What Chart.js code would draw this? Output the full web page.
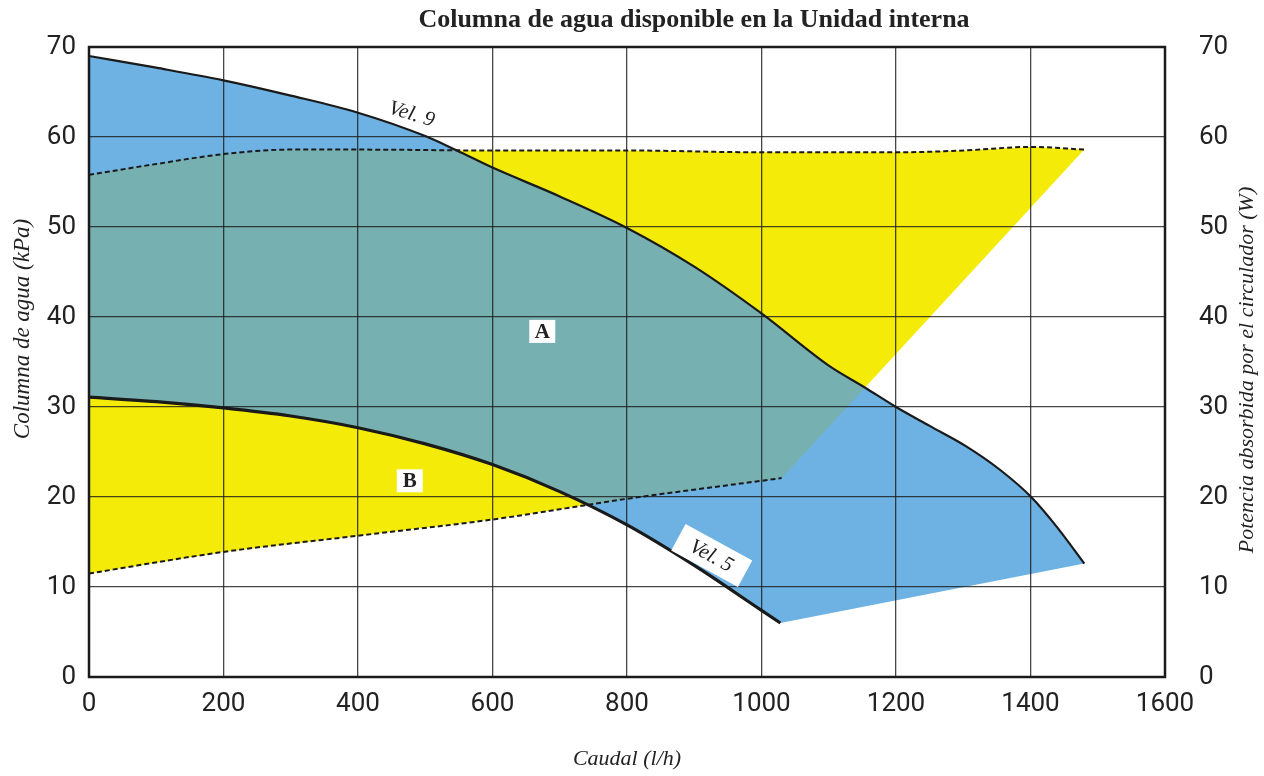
<!DOCTYPE html>
<html>
<head>
<meta charset="utf-8">
<script src="https://cdn.jsdelivr.net/npm/chart.js@4.4.1/dist/chart.umd.min.js"></script>
<style>
  html, body { margin: 0; padding: 0; background: #fff; }
  #wrap { width: 1264px; height: 776px; }
</style>
</head>
<body>
<div id="wrap"><canvas id="myChart"></canvas></div>
<script>
// curva Vel. 9 (kPa)
const vel9Caudal = [0, 100, 200, 300, 400, 500, 547, 600, 700, 800, 900, 1000, 1100, 1153, 1200, 1250, 1305, 1355, 1401, 1440, 1480];
const vel9Columna = [69.0, 67.7, 66.3, 64.6, 62.7, 60.1, 58.5, 56.6, 53.4, 49.9, 45.6, 40.4, 34.6, 32.2, 30.0, 27.9, 25.6, 23.0, 20.0, 16.6, 12.6];
// curva Vel. 5 (kPa)
const vel5Caudal = [0, 100, 200, 300, 400, 500, 600, 700, 800, 900, 1000, 1028];
const vel5Columna = [31.1, 30.6, 29.9, 29.0, 27.7, 25.9, 23.6, 20.6, 16.9, 12.4, 7.4, 6.0];
// potencia absorbida (W)
const potMaxCaudal = [0, 100, 200, 300, 400, 600, 800, 1000, 1200, 1300, 1400, 1480];
const potMaxW = [55.8, 57.0, 58.1, 58.6, 58.6, 58.5, 58.5, 58.3, 58.3, 58.5, 58.9, 58.6];
const potMinCaudal = [0, 200, 400, 600, 800, 1000, 1030];
const potMinW = [11.5, 13.9, 15.7, 17.5, 19.8, 21.8, 22.1];
// ticks
const xTicks = [0, 200, 400, 600, 800, 1000, 1200, 1400, 1600];
const yTicks = [0, 10, 20, 30, 40, 50, 60, 70];

const blue = "#6db2e2";
const yellow = "#f5eb08";
const teal = "#77b0b0";
const serif = "'Liberation Serif', 'DejaVu Serif', serif";

const toPoints = (xs, ys) => xs.map((x, i) => ({ x: x, y: ys[i] }));

// zona A: entre Vel. 9 y Vel. 5
const zonaA = toPoints(vel9Caudal, vel9Columna).concat(toPoints(vel5Caudal, vel5Columna).reverse());
// zona B: entre potencia max y min
const zonaB = toPoints(potMaxCaudal, potMaxW).concat(toPoints(potMinCaudal, potMinW).reverse());

const overlapPlugin = {
  id: "overlap",
  afterDatasetDraw(chart, args) {
    if (args.index !== 4) return;
    const ctx = chart.ctx;
    const a = chart.getDatasetMeta(4).data;
    const b = chart.getDatasetMeta(5).data;
    ctx.save();
    ctx.beginPath();
    a.forEach((p, i) => (i ? ctx.lineTo(p.x, p.y) : ctx.moveTo(p.x, p.y)));
    ctx.closePath();
    ctx.clip();
    ctx.beginPath();
    b.forEach((p, i) => (i ? ctx.lineTo(p.x, p.y) : ctx.moveTo(p.x, p.y)));
    ctx.closePath();
    ctx.fillStyle = teal;
    ctx.fill();
    ctx.restore();
  },
};

function boxLabel(ctx, text, x, y, angle, font, w, h) {
  ctx.save();
  ctx.translate(x, y);
  ctx.rotate(angle);
  if (w) {
    ctx.fillStyle = "#fff";
    ctx.fillRect(-w / 2, -h / 2, w, h);
  }
  ctx.fillStyle = "#222";
  ctx.font = font;
  ctx.textAlign = "center";
  ctx.textBaseline = "middle";
  ctx.fillText(text, 0, 1);
  ctx.restore();
}

const textPlugin = {
  id: "texts",
  afterDraw(chart) {
    const ctx = chart.ctx;
    const a = chart.chartArea;
    const sx = chart.scales.x;
    const sy = chart.scales.y;

    // marco
    ctx.save();
    ctx.strokeStyle = "#1a1a1a";
    ctx.lineWidth = 2.5;
    ctx.strokeRect(a.left, a.top, a.right - a.left, a.bottom - a.top);
    ctx.restore();

    // titulo
    ctx.save();
    ctx.fillStyle = "#222";
    ctx.font = "bold 26px " + serif;
    ctx.textAlign = "center";
    ctx.textBaseline = "alphabetic";
    ctx.fillText("Columna de agua disponible en la Unidad interna", 694, 27);
    ctx.restore();

    // titulos de ejes verticales
    boxLabel(ctx, "Columna de agua (kPa)", 22, 329, -Math.PI / 2, "italic 23px " + serif);
    boxLabel(ctx, "Potencia absorbida por el circulador (W)", 1246, 370, -Math.PI / 2, "italic 22px " + serif);

    // etiquetas
    boxLabel(ctx, "Vel. 9", sx.getPixelForValue(480), sy.getPixelForValue(62.6), 0.3, "italic 21px " + serif);
    boxLabel(ctx, "Vel. 5", sx.getPixelForValue(926), sy.getPixelForValue(13.5), 0.5, "italic 21px " + serif, 76, 30);
    boxLabel(ctx, "A", sx.getPixelForValue(674), sy.getPixelForValue(38.4), 0, "bold 21px " + serif, 26, 23);
    boxLabel(ctx, "B", sx.getPixelForValue(477), sy.getPixelForValue(21.8), 0, "bold 21px " + serif, 26, 23);
  },
};

const tickFont = { family: "Roboto, 'Noto Sans', sans-serif", size: 26, weight: "normal" };
const gridOpts = { color: "rgba(25,25,25,0.8)", lineWidth: 1.3, drawTicks: false, z: 1 };
const plainTick = (v) => String(v);

const ctx = document.getElementById("myChart").getContext("2d");
const myChart = new Chart(ctx, {
  type: "scatter",
  data: {
    datasets: [
      {
        label: "Vel. 9",
        data: toPoints(vel9Caudal, vel9Columna),
        showLine: true,
        cubicInterpolationMode: "monotone",
        borderColor: "#1a1a1a",
        borderWidth: 2.2,
        pointRadius: 0,
        fill: false,
        yAxisID: "y",
      },
      {
        label: "Vel. 5",
        data: toPoints(vel5Caudal, vel5Columna),
        showLine: true,
        cubicInterpolationMode: "monotone",
        borderColor: "#1a1a1a",
        borderWidth: 3.2,
        pointRadius: 0,
        fill: false,
        yAxisID: "y",
      },
      {
        label: "Potencia max",
        data: toPoints(potMaxCaudal, potMaxW),
        showLine: true,
        cubicInterpolationMode: "monotone",
        borderColor: "#1a1a1a",
        borderWidth: 2,
        borderDash: [5, 3],
        pointRadius: 0,
        fill: false,
        yAxisID: "y2",
      },
      {
        label: "Potencia min",
        data: toPoints(potMinCaudal, potMinW),
        showLine: true,
        cubicInterpolationMode: "monotone",
        borderColor: "#1a1a1a",
        borderWidth: 2,
        borderDash: [5, 3],
        pointRadius: 0,
        fill: false,
        yAxisID: "y2",
      },
      {
        label: "Zona A",
        data: zonaA,
        showLine: true,
        borderWidth: 0,
        borderColor: "rgba(0,0,0,0)",
        backgroundColor: blue,
        pointRadius: 0,
        fill: "shape",
        yAxisID: "y",
      },
      {
        label: "Zona B",
        data: zonaB,
        showLine: true,
        borderWidth: 0,
        borderColor: "rgba(0,0,0,0)",
        backgroundColor: yellow,
        pointRadius: 0,
        fill: "shape",
        yAxisID: "y2",
      },
    ],
  },
  options: {
    responsive: true,
    maintainAspectRatio: false,
    animation: false,
    layout: { padding: { top: 47, left: 0, right: 0, bottom: 0 } },
    plugins: {
      legend: { display: false },
      tooltip: { enabled: false },
    },
    scales: {
      x: {
        type: "linear",
        min: 0,
        max: 1600,
        afterBuildTicks: (s) => { s.ticks = xTicks.map((v) => ({ value: v })); },
        afterFit: (s) => { s.height = 99; },
        grid: gridOpts,
        border: { display: false },
        ticks: { font: tickFont, color: "#222", padding: 12, maxRotation: 0, callback: plainTick },
        title: {
          display: true,
          text: "Caudal (l/h)",
          font: { family: serif, size: 22, style: "italic" },
          color: "#222",
          padding: { top: 0, bottom: 4 },
        },
      },
      y: {
        position: "left",
        min: 0,
        max: 70,
        afterBuildTicks: (s) => { s.ticks = yTicks.map((v) => ({ value: v })); },
        afterFit: (s) => { s.width = 89; },
        grid: gridOpts,
        border: { display: false },
        ticks: { font: tickFont, color: "#222", padding: 13, callback: plainTick },
      },
      y2: {
        position: "right",
        min: 0,
        max: 70,
        afterBuildTicks: (s) => { s.ticks = yTicks.map((v) => ({ value: v })); },
        afterFit: (s) => { s.width = 99; },
        grid: { display: false },
        border: { display: false },
        ticks: { font: tickFont, color: "#222", padding: 26, callback: plainTick },
      },
    },
  },
  plugins: [overlapPlugin, textPlugin],
});
</script>
</body>
</html>
